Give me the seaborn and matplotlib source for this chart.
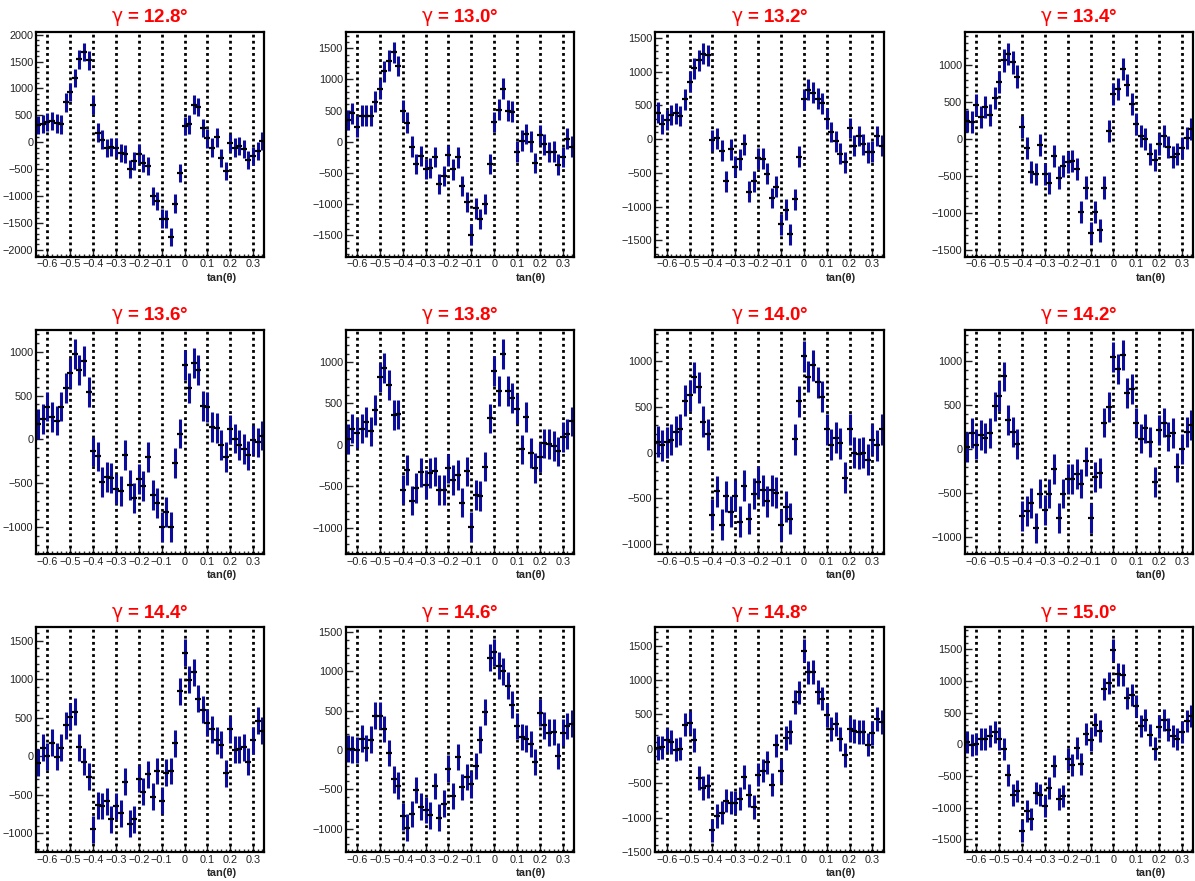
import numpy as np
import pandas as pd
import matplotlib
matplotlib.use("Agg")
import matplotlib.pyplot as plt
import seaborn as sns
from matplotlib.ticker import MultipleLocator, AutoMinorLocator, FuncFormatter

# bin centres in tan(theta)
tan_theta = [-0.64, -0.62, -0.60, -0.58, -0.56, -0.54, -0.52, -0.50, -0.48, -0.46,
             -0.44, -0.42, -0.40, -0.38, -0.36, -0.34, -0.32, -0.30, -0.28, -0.26,
             -0.24, -0.22, -0.20, -0.18, -0.16, -0.14, -0.12, -0.10, -0.08, -0.06,
             -0.04, -0.02, 0.00, 0.02, 0.04, 0.06, 0.08, 0.10, 0.12, 0.14,
             0.16, 0.18, 0.20, 0.22, 0.24, 0.26, 0.28, 0.30, 0.32, 0.34]

gammas = ["12.8", "13.0", "13.2", "13.4", "13.6", "13.8",
          "14.0", "14.2", "14.4", "14.6", "14.8", "15.0"]

g128 = [320, 340, 380, 400, 350, 330, 740, 940, 1190, 1540,
        1680, 1520, 700, 180, 50, -110, -90, -100, -200, -220,
        -500, -350, -210, -380, -440, -1000, -1090, -1420, -1430, -1760,
        -1140, -570, 300, 330, 700, 650, 260, 70, -100, 90,
        -290, -540, -20, -100, -70, -120, -330, -250, -160, 20]
g130 = [350, 457, 242, 420, 420, 420, 645, 844, 1129, 1301,
        1435, 1220, 500, 306, -80, -355, -231, -441, -419, -242,
        -677, -553, -220, -446, -253, -710, -968, -1494, -1070, -1242,
        -1000, -360, 317, 516, 855, 500, 484, -161, 16, 124,
        0, -344, 108, -43, -167, -161, -366, -242, 48, -80]
g132 = [392, 223, 283, 357, 382, 342, 590, 848, 1051, 1166,
        1265, 1240, -15, 15, -174, -625, -149, -412, -298, -74,
        -784, -625, -283, -293, -511, -873, -704, -1265, -1047, -1414,
        -893, -263, 590, 729, 689, 595, 531, 303, 104, -30,
        -218, -342, 164, -99, 45, -79, -198, -188, 45, -99]
g134 = [249, 231, 462, 294, 430, 326, 552, 774, 1063, 1154,
        1036, 846, 167, -122, -448, -475, -81, -475, -597, -226,
        -520, -362, -308, -299, -403, -991, -656, -1267, -982, -1235,
        -656, 109, 611, 679, 950, 733, 471, 204, 41, 5,
        -204, -281, -68, 41, -109, -240, -204, -122, 18, 131]
g136 = [178, 235, 375, 254, 216, 375, 583, 754, 977, 795,
        898, 545, -136, -193, -485, -424, -443, -568, -591, -174,
        -523, -670, -447, -530, -197, -636, -727, -992, -826, -992,
        -265, 68, 852, 591, 875, 795, 386, 371, 140, 133,
        -64, -197, 114, 11, -61, -106, -182, -4, -34, 45]
g138 = [68, 197, 141, 197, 278, 161, 419, 814, 927, 721,
        359, 367, -540, -302, -673, -524, -334, -480, -343, -322,
        -544, -544, -286, -427, -367, -697, -322, -995, -604, -620,
        -262, 318, 887, 649, 1092, 649, 564, 431, -56, 334,
        -100, -278, -153, 16, 8, -16, -80, 97, 129, 282]
g140 = [117, 80, 110, 139, 226, 256, 566, 628, 821, 712,
        336, 201, -679, -423, -788, -478, -646, -475, -755, -361,
        -723, -449, -321, -412, -533, -412, -438, -796, -591, -723,
        146, 562, 1051, 829, 956, 767, 610, 256, 84, 164,
        102, -274, 256, 0, -15, 0, -80, 139, 80, 256]
g142 = [20, 182, 53, 163, 125, 182, 485, 599, 826, 334,
        190, 64, -758, -701, -614, -894, -504, -694, -504, -227,
        -777, -504, -341, -341, -277, -390, -140, -777, -315, -273,
        303, 474, 1050, 910, 1069, 637, 682, 303, 121, 235,
        83, -368, 216, 303, 144, 182, -208, 0, 190, 273]
g144 = [-82, 113, 0, 173, -9, 113, 403, 511, 576, 117,
        -74, -268, -948, -636, -645, -585, -820, -645, -736, -333,
        -875, -820, -290, -463, -234, -528, -191, -580, -216, -191,
        169, 845, 1342, 992, 1091, 749, 602, 437, 351, 208,
        147, -221, 351, 82, 91, 117, -74, 208, 463, 329]
g146 = [17, 8, 0, 144, 25, 131, 437, 437, 267, -38,
        -373, -454, -844, -988, -814, -509, -721, -763, -831, -458,
        -861, -683, -237, -585, -89, -471, -343, -437, -204, 131,
        483, 1170, 1238, 1068, 1001, 814, 577, 305, 165, 144,
        76, -153, 471, 314, 221, 229, -76, 221, 305, 335]
g148 = [15, 24, 126, 102, -10, 5, 354, 383, 126, -422,
        -568, -539, -1184, -975, -927, -752, -781, -781, -723, -412,
        -674, -844, -373, -315, -194, -519, 53, -320, 160, 243,
        684, 820, 1426, 1111, 1120, 829, 732, 490, 286, 364,
        141, -92, 286, 257, 243, 247, 63, 233, 432, 393]
g150 = [37, -16, 0, 79, 79, 132, 195, 79, -79, -489,
        -805, -737, -1368, -1058, -1174, -768, -805, -974, -689, -342,
        -858, -816, -237, -332, -58, -316, 158, 74, 311, 211,
        873, 963, 1489, 1100, 1089, 731, 773, 605, 289, 384,
        142, -68, 279, 379, 232, 132, 89, 195, 363, 442]

series = [g128, g130, g132, g134, g136, g138, g140, g142, g144, g146, g148, g150]

# typical error per panel
errors = [170, 165, 155, 150, 170, 180, 170, 170, 175, 170, 170, 175]

ylims = [(-2125, 2050), (-1844, 1763), (-1741, 1587), (-1588, 1448),
         (-1307, 1250), (-1322, 1390), (-1113, 1343), (-1194, 1357),
         (-1242, 1671), (-1297, 1556), (-1500, 1765), (-1699, 1841)]

guide_lines = [-0.6, -0.5, -0.4, -0.3, -0.2, -0.1, 0.0, 0.1, 0.2, 0.3]

sns.set_style("ticks")
plt.rcParams["font.family"] = ["Liberation Sans", "DejaVu Sans"]
plt.rcParams["mathtext.fontset"] = "custom"
plt.rcParams["mathtext.rm"] = "DejaVu Sans"
plt.rcParams["xtick.direction"] = "in"
plt.rcParams["ytick.direction"] = "in"

fig, axes = plt.subplots(3, 4, figsize=(11.95, 8.81), dpi=100)
fig.subplots_adjust(left=0.0301, right=0.9987, top=0.9637, bottom=0.0329,
                    wspace=0.355, hspace=0.326)

def xfmt(v, pos):
    if abs(v) < 1e-9:
        return "0"
    return f"{v:.1f}".replace("-", "\u2212")

for i, ax in enumerate(axes.flat):
    df = pd.DataFrame({"tan": tan_theta, "val": series[i]})
    for g in guide_lines:
        ax.axvline(g, color="black", ls=(0, (1.0, 1.2)), lw=2.0, zorder=1)
    ax.errorbar(df["tan"], df["val"], yerr=errors[i], fmt="none",
                ecolor="#0c0c9c", elinewidth=2.2, capsize=0, zorder=2)
    sns.scatterplot(data=df, x="tan", y="val", marker="_", s=14, color="black",
                    linewidth=1.6, ax=ax, zorder=3, legend=False)
    ax.set_xlim(-0.65, 0.35)
    ax.set_ylim(*ylims[i])
    ax.xaxis.set_major_locator(MultipleLocator(0.1))
    ax.xaxis.set_minor_locator(AutoMinorLocator(5))
    ax.xaxis.set_major_formatter(FuncFormatter(xfmt))
    ax.yaxis.set_major_locator(MultipleLocator(500))
    ax.yaxis.set_minor_locator(AutoMinorLocator(5))
    ax.tick_params(which="major", length=5, width=1.0, labelsize=7.8, pad=2,
                   colors="#222222")
    ax.tick_params(which="minor", length=2.5, width=1.0)
    ax.tick_params(top=False, right=False)
    for sp in ax.spines.values():
        sp.set_linewidth(1.6)
        sp.set_color("black")
    ax.set_xlabel("")
    ax.set_ylabel("")
    ax.text(0.878, -0.094, "tan(\u03b8)", transform=ax.transAxes,
            ha="right", va="center", fontsize=8, fontweight="bold")
    ax.set_title(r"$\mathrm{\gamma}$" + f" = {gammas[i]}\u00b0", color="#ff0000",
                 fontsize=13.5, fontweight="bold", pad=7)

fig.savefig("out.png", dpi=100)
